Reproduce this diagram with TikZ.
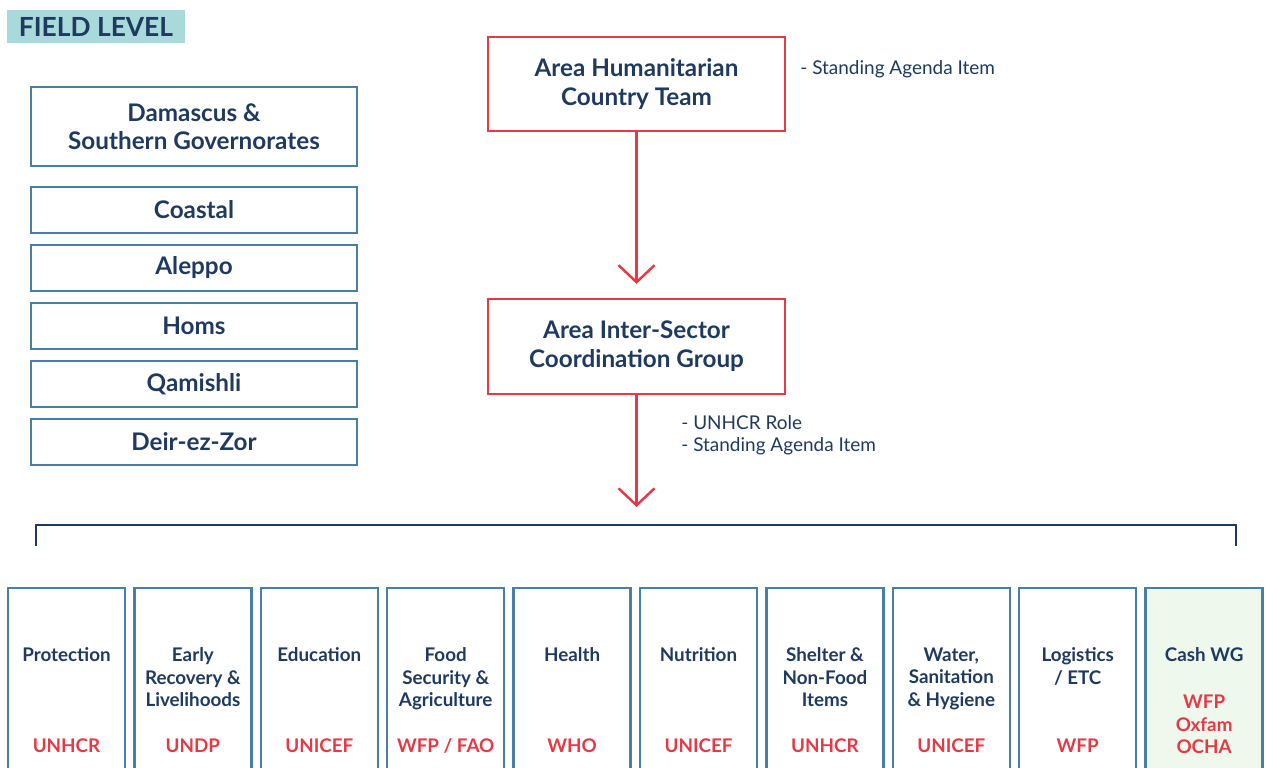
\documentclass[tikz,border=0pt]{standalone}
\usepackage{fontspec}
\setmainfont{Lato}
\usetikzlibrary{arrows.meta}

\definecolor{navy}{HTML}{1F3A5F}
\definecolor{steel}{HTML}{4A7FA5}
\definecolor{alert}{HTML}{E63946}
\definecolor{teal}{HTML}{A8DADC}
\definecolor{mint}{HTML}{EEF8EC}

\begin{document}
\begin{tikzpicture}[x=0.02cm, y=-0.02cm,
    every node/.style={text=navy},
    region/.style={draw=steel, line width=1.4pt, minimum width=6.52cm,
        minimum height=0.92cm, align=center,
        font=\fontsize{13.8}{15.8}\selectfont\bfseries},
    area/.style={draw=alert, line width=1.3pt, minimum width=5.94cm,
        minimum height=1.88cm, align=center,
        font=\fontsize{13.8}{16.4}\selectfont\bfseries},
    note/.style={align=left, anchor=west, inner sep=0pt,
        font=\fontsize{10.8}{12.5}\selectfont},
    flow/.style={draw=alert, line width=1.4pt,
        -{Straight Barb[length=0.34cm, width=0.72cm]}},
    sector/.style={draw=steel, line width=1.4pt, minimum width=2.34cm,
        minimum height=4.08cm},
    sectorname/.style={align=center, inner sep=0pt,
        font=\fontsize{10.7}{12.8}\selectfont\bfseries},
    lead/.style={text=alert, align=center, inner sep=0pt,
        font=\fontsize{10.7}{12.8}\selectfont\bfseries},
]
    \useasboundingbox (0,0) rectangle (1266,767);
    \clip (0,0) rectangle (1266,767);

    % Heading
    \node[fill=teal, minimum width=3.56cm, minimum height=0.66cm,
        font=\fontsize{15}{16}\selectfont\bfseries] (field) at (96,26.5) {FIELD LEVEL};

    % Field offices
    \node[region, minimum height=1.58cm] (damascus) at (194,126.5) {Damascus \&\\Southern Governorates};
    \node[region] (coastal) at (194,210) {Coastal};
    \node[region] (aleppo) at (194,268) {Aleppo};
    \node[region] (homs) at (194,326) {Homs};
    \node[region] (qamishli) at (194,384) {Qamishli};
    \node[region] (deir) at (194,442) {Deir-ez-Zor};

    % Coordination chain
    \node[area] (ahct) at (636.5,84) {Area Humanitarian\\Country Team};
    \node[area, minimum height=1.9cm] (aiscg) at (636.5,346.5) {Area Inter-Sector\\Coordination Group};
    \node[note] (ahctnote) at (800,69) {- Standing Agenda Item};
    \node[note] (aiscgnote) at (681,435) {- UNHCR Role\\- Standing Agenda Item};

    \coordinate (hub) at (636.5,507);
    \draw[flow, shorten >=0.28cm] (ahct) -- (aiscg);
    \draw[flow] (aiscg) -- (hub);

    % Bracket over the sectors
    \coordinate (bl) at (36,546);
    \coordinate (br) at (1236,546);
    \draw[navy, line width=1.4pt] (bl) -- (36,525) -- (1236,525) -- (br);

    % Sectors and lead agencies
    \foreach \i/\name/\agency in {
        1/{Protection}/{UNHCR},
        2/{Early\\Recovery \&\\Livelihoods}/{UNDP},
        3/{Education}/{UNICEF},
        4/{Food\\Security \&\\Agriculture}/{WFP / FAO},
        5/{Health}/{WHO},
        6/{Nutrition}/{UNICEF},
        7/{Shelter \&\\Non-Food\\Items}/{UNHCR},
        8/{Water,\\Sanitation\\\& Hygiene}/{UNICEF},
        9/{Logistics\\/ ETC}/{WFP}} {
        \node[sector] (s\i) at ({66.5+126.4*(\i-1)},690) {};
        \node[sectorname, anchor=north] (t\i) at ([yshift=-1.21cm]s\i.north) {\name};
        \node[lead, anchor=base] (l\i) at ([yshift=-3.31cm]s\i.north) {\agency};
    }
    \node[sector, fill=mint] (s10) at (1204.1,690) {};
    \node[sectorname, anchor=north] (t10) at ([yshift=-1.21cm]s10.north) {Cash WG};
    \node[lead, anchor=north] (l10) at ([yshift=-2.16cm]s10.north) {WFP\\Oxfam\\OCHA};
\end{tikzpicture}
\end{document}
